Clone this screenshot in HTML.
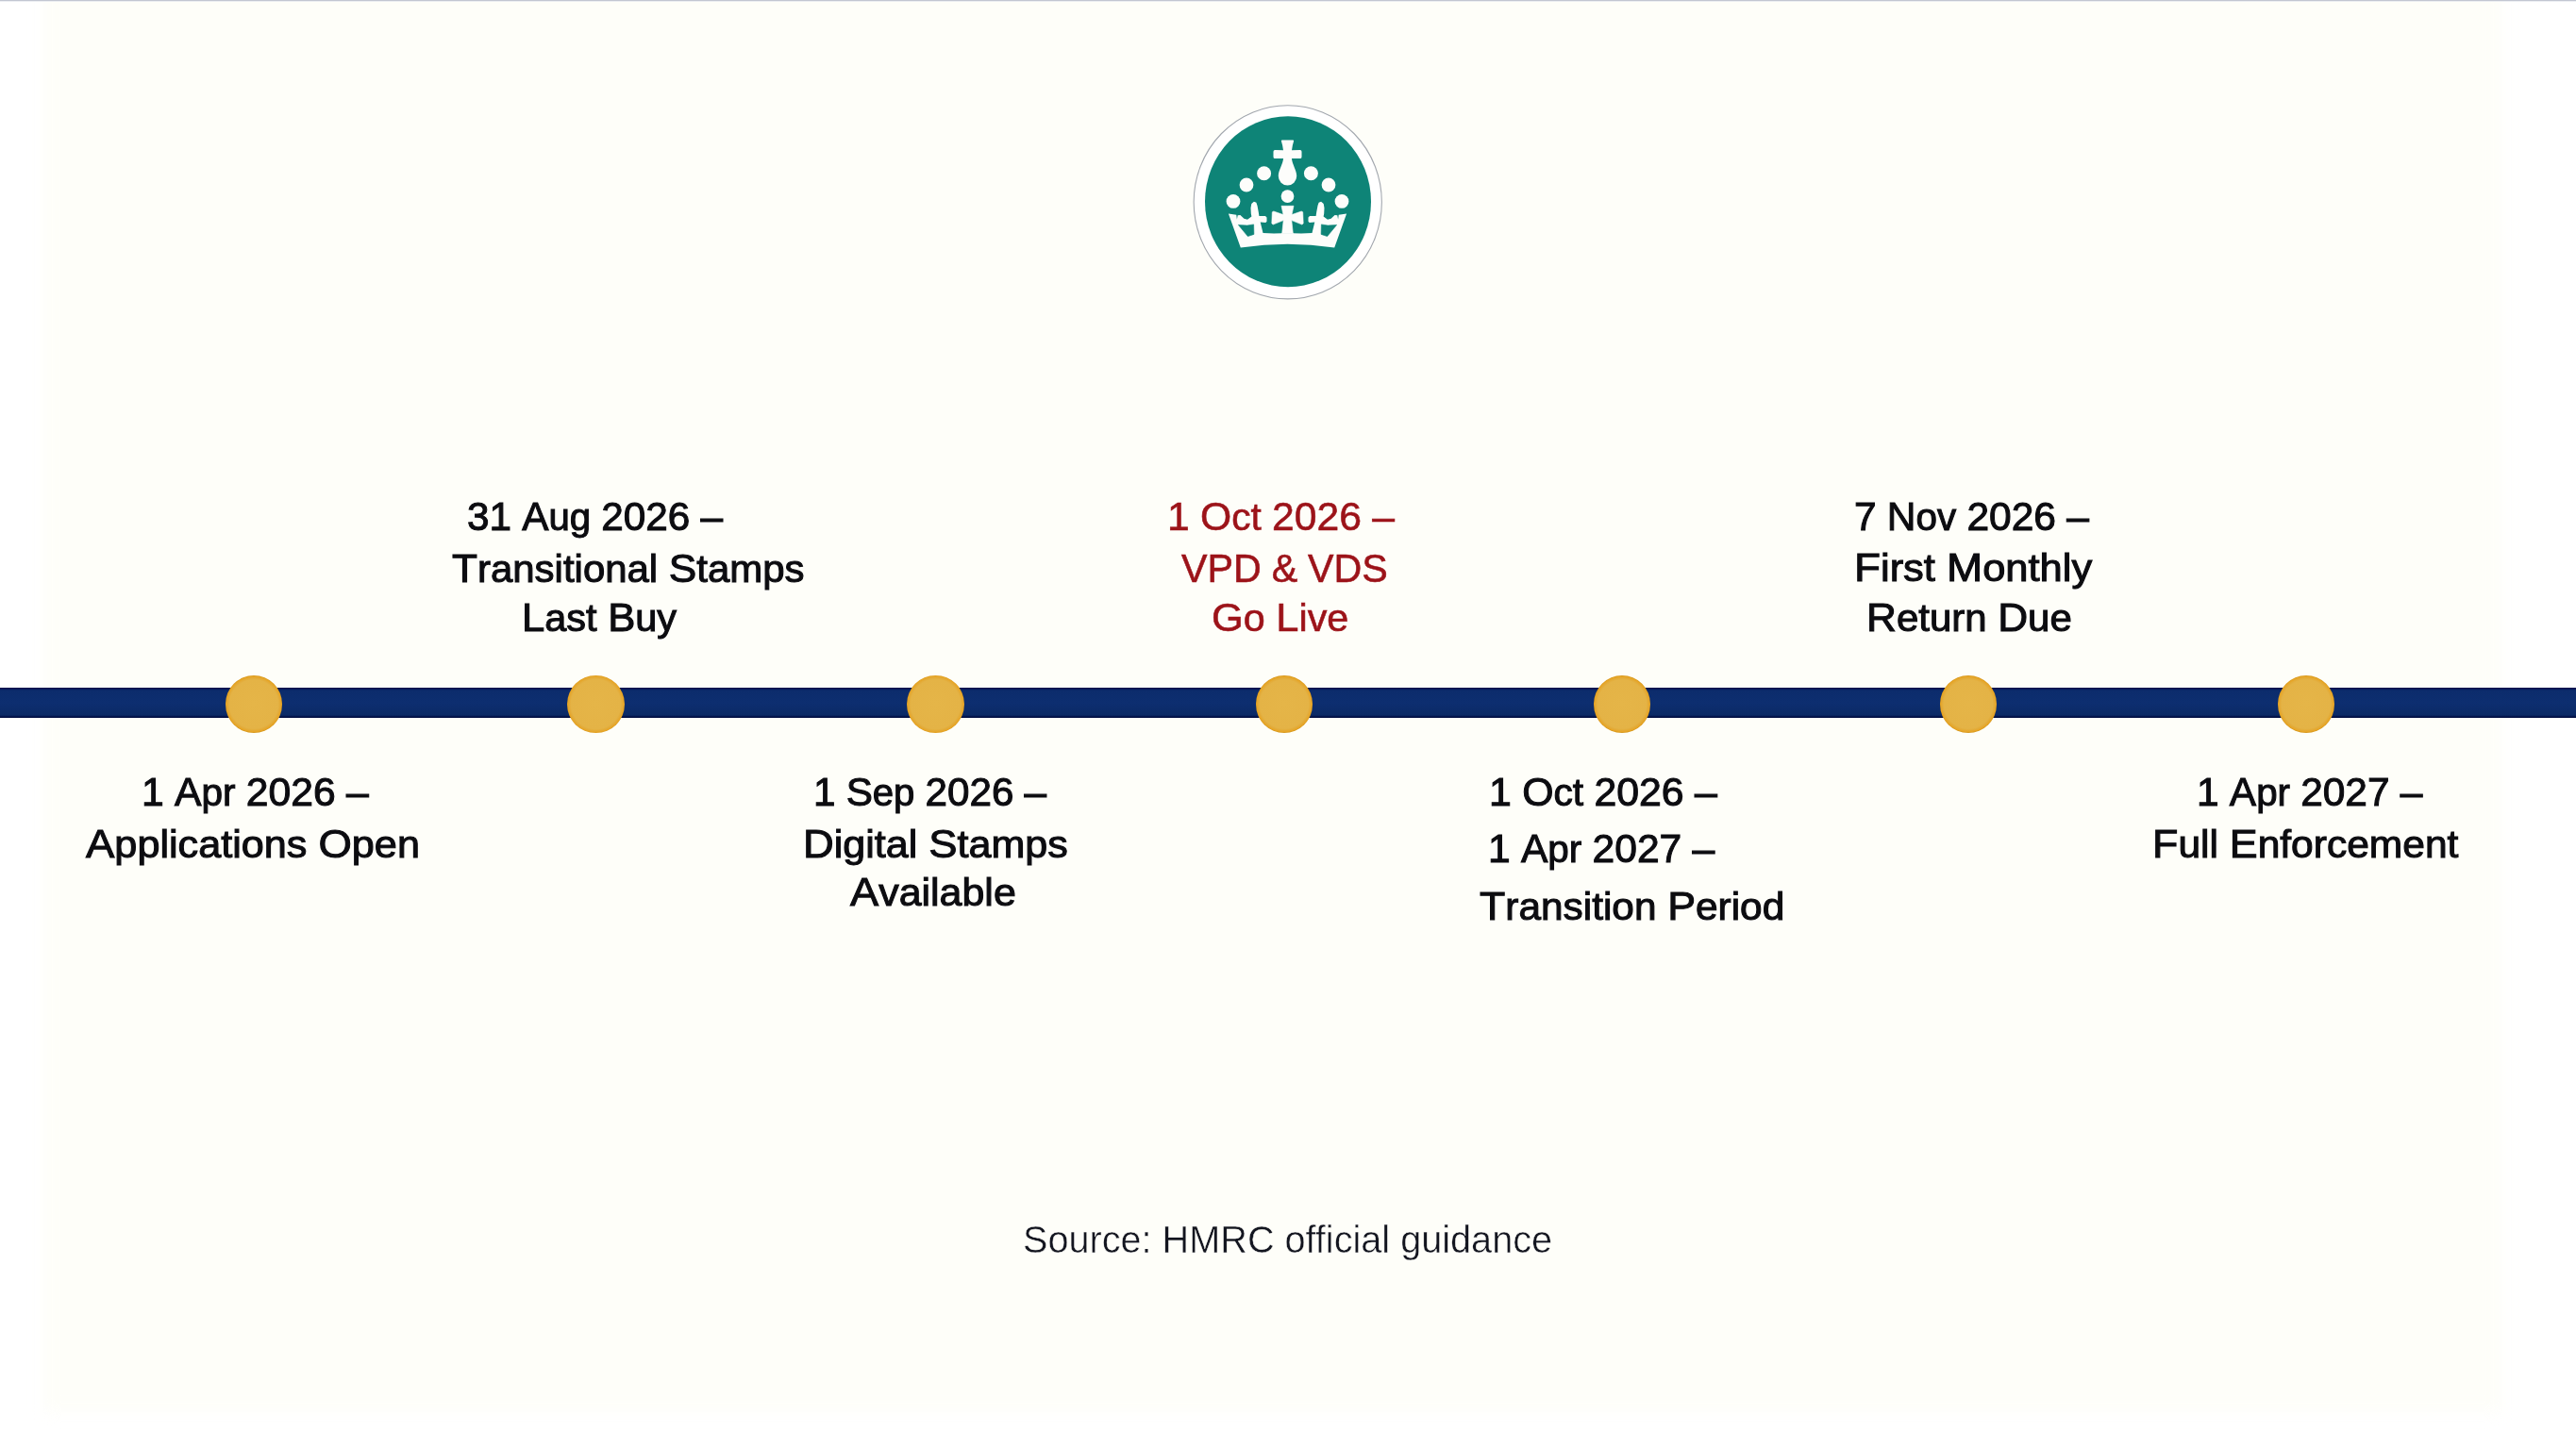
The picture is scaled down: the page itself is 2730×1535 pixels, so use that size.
<!DOCTYPE html><html><head><meta charset="utf-8"><style>
*{margin:0;padding:0;box-sizing:border-box}
html,body{width:2730px;height:1535px;overflow:hidden;background:#ffffff}
body{position:relative;font-family:"Liberation Sans",sans-serif}
.bg{position:absolute;left:46px;top:-30px;right:78px;bottom:38px;background:#fefef9;filter:blur(8px)}
.topline{position:absolute;left:0;top:0;width:2730px;height:2px;background:linear-gradient(#c2c6d2 0,#c2c6d2 50%,#eceef2 50%)}
.bar{position:absolute;left:0;top:729px;width:2730px;height:32px;background:linear-gradient(#020f45 0px,#06195a 1.5px,#0c2c6c 3px,#0d2e70 50%,#0b2a66 29px,#041650 30.5px,#010b3a 32px)}
.dot{position:absolute;width:60.6px;height:60.6px;border-radius:50%;
 background:radial-gradient(circle closest-side at 50% 50%,#e5b548 0%,#e4b346 86%,#e3aa36 93%,#e8a524 97.5%,#d89a20 100%)}
.t{position:absolute;white-space:nowrap;transform-origin:0 0;font-family:"Liberation Sans",sans-serif}
</style></head><body>
<div class="bg"></div><div class="topline"></div>
<svg style="position:absolute;left:1250px;top:100px" width="230" height="230" viewBox="1250 100 230 230"><ellipse cx="1364.75" cy="214.3" rx="99.6" ry="102.6" fill="#ffffff" stroke="#a2a7ae" stroke-width="1.1"/><ellipse cx="1365" cy="213.75" rx="88" ry="90.5" fill="#0e8477"/><g fill="#fdfdfb"><circle cx="1339.60" cy="183.8" r="7.5"/><circle cx="1389.40" cy="183.8" r="7.5"/><circle cx="1321.00" cy="196.0" r="7.4"/><circle cx="1408.00" cy="196.0" r="7.4"/><circle cx="1307.00" cy="213.4" r="7.4"/><circle cx="1422.00" cy="213.4" r="7.4"/><circle cx="1364.5" cy="208.1" r="6.9"/><path d="M1360.1,167.5 L1368.9,167.5 C1369.5,175 1374.2,180 1374.2,186.8 A9.7,9.7 0 0 1 1354.8,186.8 C1354.8,180 1359.5,175 1360.1,167.5 Z"/><path d="M1357.9,149.6 Q1357.7,148.5 1358.9,148.5 L1370.1,148.5 Q1371.3,148.5 1371.1,149.6 Q1369.5,154.5 1369.0,159.3 L1377.7,159.0 Q1379.5,158.9 1379.5,160.8 L1379.5,166.2 Q1379.5,168.2 1377.7,168.1 L1368.9,167.9 L1360.1,167.9 L1351.3,168.1 Q1349.5,168.2 1349.5,166.2 L1349.5,160.8 Q1349.5,158.9 1351.3,159.0 L1360.0,159.3 Q1359.5,154.5 1357.9,149.6 Z"/><path d="M1301.90,226.60 L1310.30,227.70 L1310.90,232.40 L1311.70,228.30 L1314.40,227.90 L1318.40,231.80 L1322.00,232.80 L1326.40,229.60 L1325.80,226.60 L1325.50,220.40 L1326.30,216.00 L1328.90,213.80 L1331.40,214.80 L1332.50,218.00 L1333.80,225.00 L1334.40,229.10 L1341.00,229.00 L1342.50,230.40 L1342.50,234.80 L1341.30,236.00 L1335.70,235.60 L1338.50,246.90 L1350.00,247.60 L1358.50,247.20 L1370.50,247.20 L1379.00,247.60 L1390.50,246.90 L1393.30,235.60 L1387.70,236.00 L1386.50,234.80 L1386.50,230.40 L1388.00,229.00 L1394.60,229.10 L1395.20,225.00 L1396.50,218.00 L1397.60,214.80 L1400.10,213.80 L1402.70,216.00 L1403.50,220.40 L1403.20,226.60 L1402.60,229.60 L1407.00,232.80 L1410.60,231.80 L1414.60,227.90 L1417.30,228.30 L1418.10,232.40 L1418.70,227.70 L1427.10,226.60 L1414.20,262.5 Q1364.5,255.2 1314.8,262.5 Z"/><polygon points="1364.50,218.30 1358.00,218.30 1360.00,227.60 1349.80,224.00 1348.30,224.80 1347.80,236.80 1349.00,238.10 1360.20,233.60 1358.80,246.40 1358.30,247.60 1370.70,247.60 1370.20,246.40 1368.80,233.60 1380.00,238.10 1381.20,236.80 1380.70,224.80 1379.20,224.00 1369.00,227.60 1371.00,218.30" stroke="#fdfdfb" stroke-width="0.6" stroke-linejoin="round"/></g><g fill="#0e8477"><polygon points="1312.40,238.40 1321.80,239.00 1328.60,237.90 1328.90,248.40 1322.40,250.60" stroke="#0e8477" stroke-width="0.6" stroke-linejoin="round"/><polygon points="1416.60,238.40 1407.20,239.00 1400.40,237.90 1400.10,248.40 1406.60,250.60" stroke="#0e8477" stroke-width="0.6" stroke-linejoin="round"/></g></svg>
<div class="bar"></div>
<div class="dot" style="left:238.7px;top:716.2px"></div>
<div class="dot" style="left:601.2px;top:716.2px"></div>
<div class="dot" style="left:961.2px;top:716.2px"></div>
<div class="dot" style="left:1330.7px;top:716.2px"></div>
<div class="dot" style="left:1688.7px;top:716.2px"></div>
<div class="dot" style="left:2055.7px;top:716.2px"></div>
<div class="dot" style="left:2413.7px;top:716.2px"></div>
<div class="t" style="left:494.50px;top:526.50px;font-size:41.0px;line-height:41.0px;color:#0c0c10;transform:scaleX(0.9791);-webkit-text-stroke:1.05px #0c0c10;"><span style="font-size:43.2px">31</span> <span style="font-size:43.2px">A</span>ug <span style="font-size:43.2px">2026</span> <span style="font-size:43.2px">–</span></div>
<div class="t" style="left:479.40px;top:582.10px;font-size:41.0px;line-height:41.0px;color:#0c0c10;transform:scaleX(1.0230);-webkit-text-stroke:1.05px #0c0c10;"><span style="font-size:43.2px">T</span>ransitional <span style="font-size:43.2px">S</span>tamps</div>
<div class="t" style="left:553.40px;top:633.50px;font-size:41.0px;line-height:41.0px;color:#0c0c10;transform:scaleX(1.0113);-webkit-text-stroke:1.05px #0c0c10;"><span style="font-size:43.2px">L</span>ast <span style="font-size:43.2px">B</span>uy</div>
<div class="t" style="left:1237.30px;top:526.90px;font-size:41.0px;line-height:41.0px;color:#9c1319;transform:scaleX(0.9884);-webkit-text-stroke:0.6px #9c1319;"><span style="font-size:43.2px">1</span> <span style="font-size:43.2px">O</span>ct <span style="font-size:43.2px">2026</span> <span style="font-size:43.2px">–</span></div>
<div class="t" style="left:1251.90px;top:581.90px;font-size:41.0px;line-height:41.0px;color:#9c1319;transform:scaleX(0.9544);-webkit-text-stroke:0.6px #9c1319;"><span style="font-size:43.2px">VPD</span> <span style="font-size:43.2px">&amp;</span> <span style="font-size:43.2px">VDS</span></div>
<div class="t" style="left:1284.30px;top:633.50px;font-size:41.0px;line-height:41.0px;color:#9c1319;transform:scaleX(1.0071);-webkit-text-stroke:0.6px #9c1319;"><span style="font-size:43.2px">G</span>o <span style="font-size:43.2px">L</span>ive</div>
<div class="t" style="left:1964.90px;top:526.90px;font-size:41.0px;line-height:41.0px;color:#0c0c10;transform:scaleX(0.9841);-webkit-text-stroke:1.05px #0c0c10;"><span style="font-size:43.2px">7</span> <span style="font-size:43.2px">N</span>ov <span style="font-size:43.2px">2026</span> <span style="font-size:43.2px">–</span></div>
<div class="t" style="left:1965.10px;top:581.10px;font-size:41.0px;line-height:41.0px;color:#0c0c10;transform:scaleX(1.0602);-webkit-text-stroke:1.05px #0c0c10;"><span style="font-size:43.2px">F</span>irst <span style="font-size:43.2px">M</span>onthly</div>
<div class="t" style="left:1978.00px;top:633.50px;font-size:41.0px;line-height:41.0px;color:#0c0c10;transform:scaleX(1.0230);-webkit-text-stroke:1.05px #0c0c10;"><span style="font-size:43.2px">R</span>eturn <span style="font-size:43.2px">D</span>ue</div>
<div class="t" style="left:149.60px;top:819.10px;font-size:41.0px;line-height:41.0px;color:#0c0c10;transform:scaleX(0.9884);-webkit-text-stroke:1.05px #0c0c10;"><span style="font-size:43.2px">1</span> <span style="font-size:43.2px">A</span>pr <span style="font-size:43.2px">2026</span> <span style="font-size:43.2px">–</span></div>
<div class="t" style="left:90.60px;top:873.90px;font-size:41.0px;line-height:41.0px;color:#0c0c10;transform:scaleX(1.0535);-webkit-text-stroke:1.05px #0c0c10;"><span style="font-size:43.2px">A</span>pplications <span style="font-size:43.2px">O</span>pen</div>
<div class="t" style="left:862.10px;top:819.10px;font-size:41.0px;line-height:41.0px;color:#0c0c10;transform:scaleX(0.9776);-webkit-text-stroke:1.05px #0c0c10;"><span style="font-size:43.2px">1</span> <span style="font-size:43.2px">S</span>ep <span style="font-size:43.2px">2026</span> <span style="font-size:43.2px">–</span></div>
<div class="t" style="left:850.80px;top:873.70px;font-size:41.0px;line-height:41.0px;color:#0c0c10;transform:scaleX(1.0500);-webkit-text-stroke:1.05px #0c0c10;"><span style="font-size:43.2px">D</span>igital <span style="font-size:43.2px">S</span>tamps</div>
<div class="t" style="left:900.90px;top:924.90px;font-size:41.0px;line-height:41.0px;color:#0c0c10;transform:scaleX(1.0471);-webkit-text-stroke:1.05px #0c0c10;"><span style="font-size:43.2px">A</span>vailable</div>
<div class="t" style="left:1577.80px;top:818.90px;font-size:41.0px;line-height:41.0px;color:#0c0c10;transform:scaleX(0.9917);-webkit-text-stroke:1.05px #0c0c10;"><span style="font-size:43.2px">1</span> <span style="font-size:43.2px">O</span>ct <span style="font-size:43.2px">2026</span> <span style="font-size:43.2px">–</span></div>
<div class="t" style="left:1576.50px;top:879.10px;font-size:41.0px;line-height:41.0px;color:#0c0c10;transform:scaleX(0.9859);-webkit-text-stroke:1.05px #0c0c10;"><span style="font-size:43.2px">1</span> <span style="font-size:43.2px">A</span>pr <span style="font-size:43.2px">2027</span> <span style="font-size:43.2px">–</span></div>
<div class="t" style="left:1567.50px;top:939.90px;font-size:41.0px;line-height:41.0px;color:#0c0c10;transform:scaleX(1.0336);-webkit-text-stroke:1.05px #0c0c10;"><span style="font-size:43.2px">T</span>ransition <span style="font-size:43.2px">P</span>eriod</div>
<div class="t" style="left:2328.10px;top:819.10px;font-size:41.0px;line-height:41.0px;color:#0c0c10;transform:scaleX(0.9826);-webkit-text-stroke:1.05px #0c0c10;"><span style="font-size:43.2px">1</span> <span style="font-size:43.2px">A</span>pr <span style="font-size:43.2px">2027</span> <span style="font-size:43.2px">–</span></div>
<div class="t" style="left:2281.10px;top:873.90px;font-size:41.0px;line-height:41.0px;color:#0c0c10;transform:scaleX(1.0374);-webkit-text-stroke:1.05px #0c0c10;"><span style="font-size:43.2px">F</span>ull <span style="font-size:43.2px">E</span>nforcement</div>
<div class="t" style="left:1084.00px;top:1294.35px;font-size:40.5px;line-height:40.5px;color:#13151f;transform:scaleX(0.9787);-webkit-text-stroke:0.45px #fefef9;">Source: HMRC official guidance</div>
</body></html>
